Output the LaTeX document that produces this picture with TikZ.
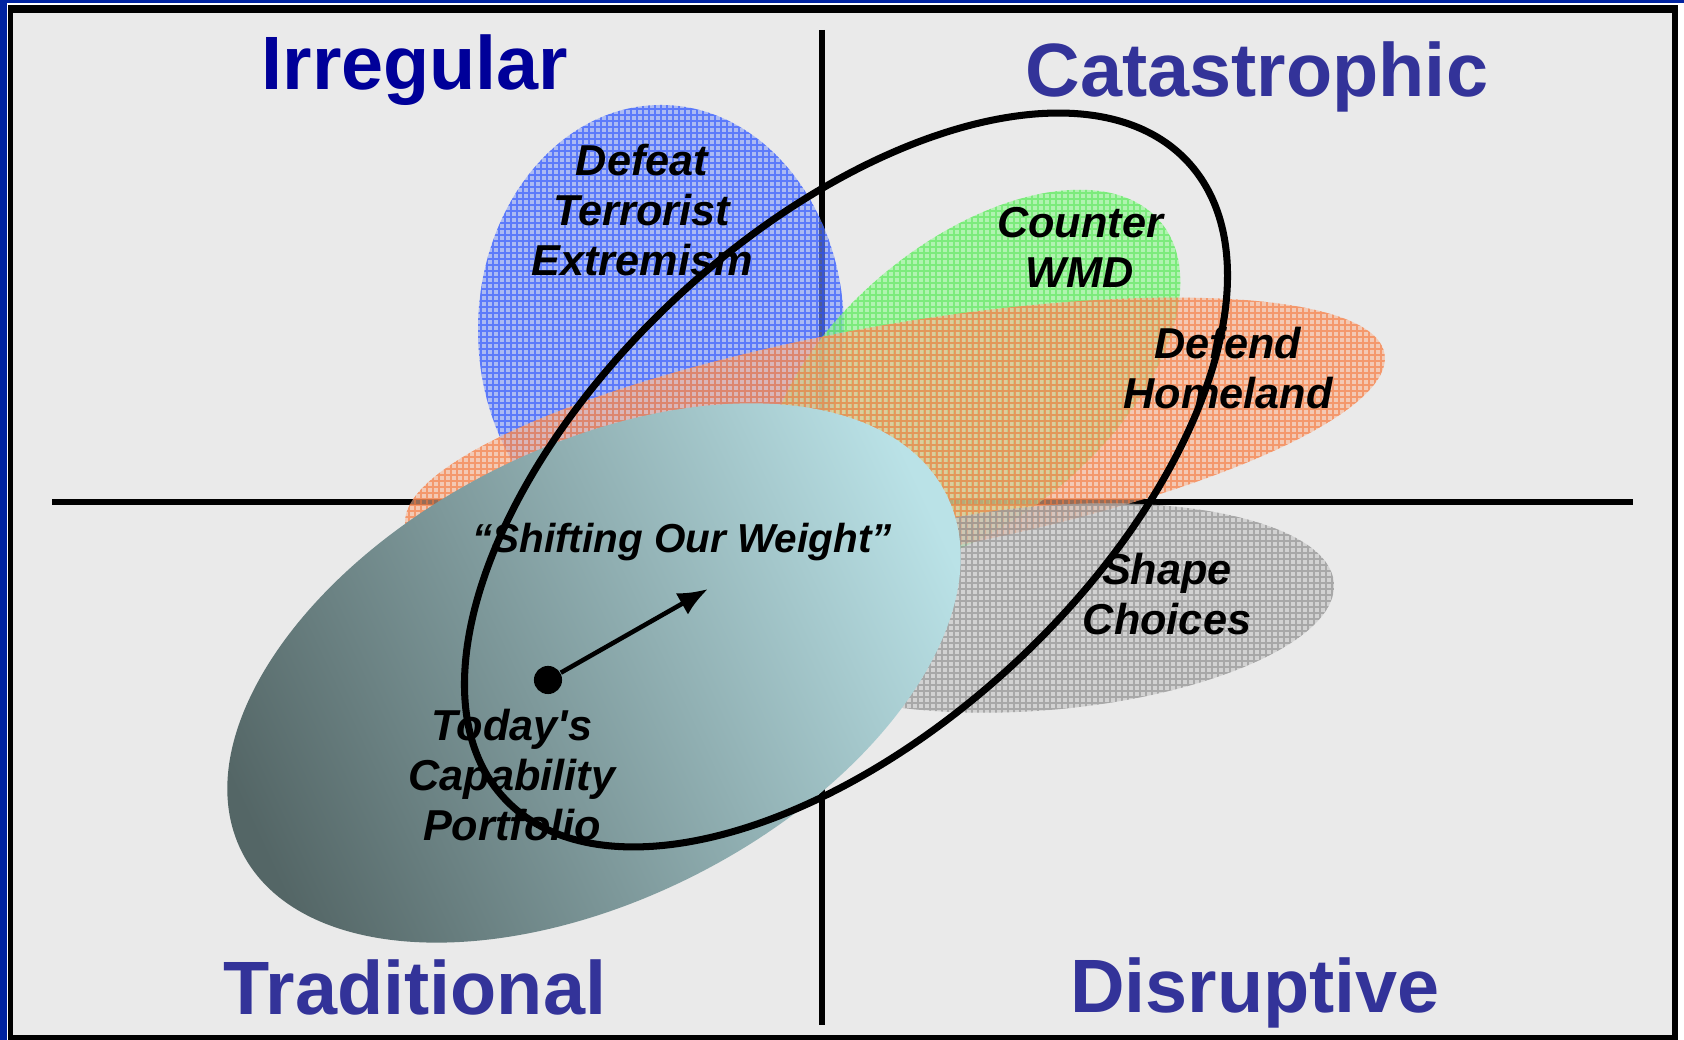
\documentclass[tikz,border=0pt]{standalone}
\usepackage{fontspec}
\setmainfont{Liberation Sans}
\newfontfamily\goalfont{Liberation Sans}
\usetikzlibrary{arrows.meta,patterns.meta}

\definecolor{framebl}{RGB}{0,35,160}
\definecolor{paper}{RGB}{234,234,234}
\definecolor{irrblue}{RGB}{0,0,153}
\definecolor{quadblue}{RGB}{51,51,153}
\definecolor{bluetint}{RGB}{130,155,250}
\definecolor{blueline}{RGB}{40,80,255}
\definecolor{greentint}{RGB}{140,250,140}
\definecolor{greenline}{RGB}{90,230,90}
\definecolor{orangetint}{RGB}{250,180,145}
\definecolor{orangeline}{RGB}{245,120,60}
\definecolor{graytint}{RGB}{195,195,195}
\definecolor{grayline}{RGB}{140,140,140}
\definecolor{portdark}{RGB}{84,102,102}
\definecolor{portlight}{RGB}{186,226,231}

% fine hatch grid used inside the mission ellipses
\tikzdeclarepattern{
  name=finegrid,
  type=uncolored,
  bounding box={(0pt,0pt) and (1.7pt,1.7pt)},
  tile size={(1.7pt,1.7pt)},
  code={
    \draw[line width=0.45pt] (0pt,0.85pt) -- (1.7pt,0.85pt)
                             (0.85pt,0pt) -- (0.85pt,1.7pt);
  }
}

\begin{document}
\begin{tikzpicture}[x=0.01cm,y=0.01cm,>=Latex,
    quadrant/.style={font=\fontsize{21.5}{26}\selectfont\bfseries,anchor=base,inner sep=0pt},
    goal/.style={font=\goalfont\fontsize{12.3}{14.2}\selectfont\bfseries\itshape,align=center,inner sep=0pt},
    zone/.style 2 args={fill=#1,fill opacity=0.6,postaction={pattern=finegrid,pattern color=#2}},
    axis/.style={line width=1.8pt}]
    \useasboundingbox (0,0) rectangle (1684,1040);

    % frame
    \fill[white] (0,0) rectangle (1684,1040);
    \fill[framebl] (0,0) rectangle (7,1040);
    \fill[framebl] (0,1037) rectangle (1684,1040);
    \fill[black] (8,0) rectangle (1678,1035);
    \fill[paper] (13,5) rectangle (1672,1027);

    % quadrant axes
    \coordinate (top) at (822,1010);
    \coordinate (bottom) at (822,15);
    \coordinate (left) at (52,538);
    \coordinate (right) at (1633,538);
    \draw[axis] (top) -- (bottom);
    \draw[axis] (left) -- (right);

    % mission areas
    \path[zone={bluetint}{blueline}] (661,710) ellipse [x radius=183, y radius=225];
    \path[zone={greentint}{greenline},rotate around={40:(972,660)}] (972,660) ellipse [x radius=246, y radius=138];
    \path[zone={orangetint}{orangeline},rotate around={10:(895,600)}] (895,600) ellipse [x radius=497, y radius=115];
    \path[zone={graytint}{grayline},rotate around={5:(1045,432)}] (1045,432) ellipse [x radius=290, y radius=102];

    % today's portfolio
    \shade[top color=portdark,bottom color=portlight,shading angle=115,rotate around={27:(594,367)}]
        (594,367) ellipse [x radius=395, y radius=226];

    % quadrant names
    \foreach \nm/\px/\py/\col/\txt in {irr/415/950/irrblue/Irregular,
        cat/1257/943/quadblue/Catastrophic,
        trad/415/25/quadblue/Traditional,
        dis/1255/27/quadblue/Disruptive}{
        \node[quadrant,text=\col] (\nm) at (\px,\py) {\txt};
    }

    % labels
    \node[goal] (dte) at (642,830) {Defeat\\Terrorist\\Extremism};
    \node[goal] (wmd) at (1080,793) {Counter\\WMD};
    \node[goal] (home) at (1228,672) {Defend\\Homeland};
    \node[goal] (shape) at (1167,446) {Shape\\Choices};
    \node[goal] (port) at (512,265) {Today's\\Capability\\Portfolio};
    \node[goal,font=\goalfont\fontsize{11.5}{14}\selectfont\bfseries\itshape,anchor=base] (shift) at (682,487) {“Shifting Our Weight”};

    % shift arrow
    \node[circle,fill=black,inner sep=0pt,minimum size=8pt] (today) at (548,360) {};
    \coordinate (aim) at (708,451);
    \draw[-{Latex[length=8.5pt,width=7pt]},line width=1.3pt] (today) -- (aim);

    % future portfolio
    \draw[line width=2pt,rotate around={43:(846,560)}] (846,560) ellipse [x radius=467, y radius=249];
\end{tikzpicture}
\end{document}
